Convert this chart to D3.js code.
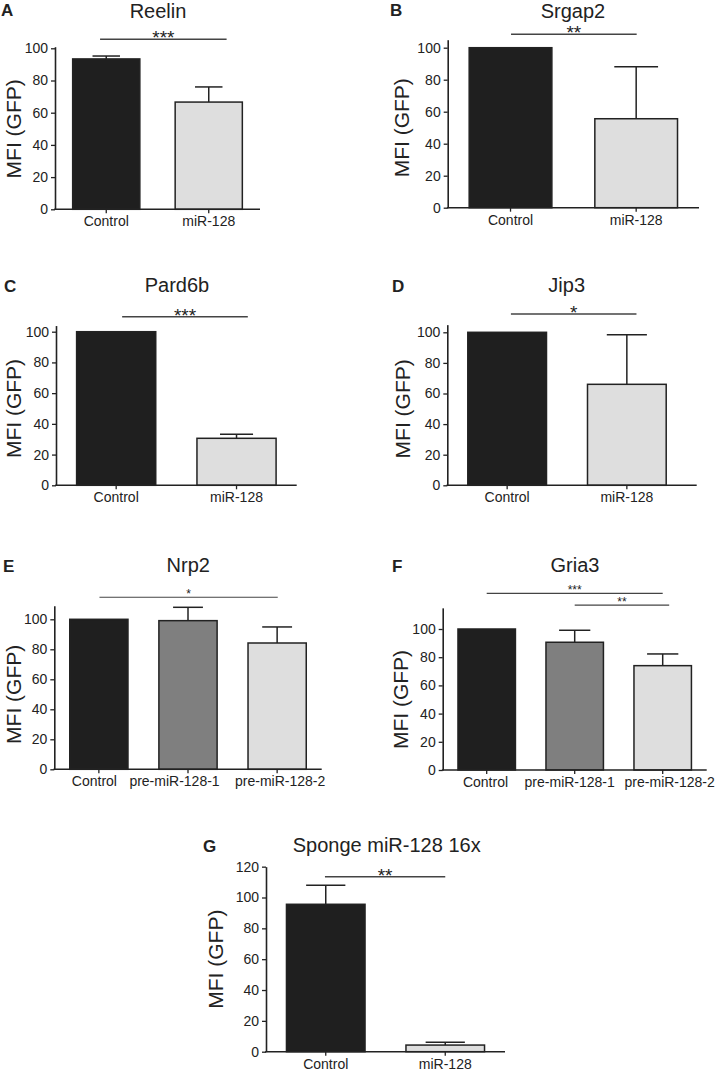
<!DOCTYPE html>
<html>
<head>
<meta charset="utf-8">
<script src="https://cdn.jsdelivr.net/npm/d3@7"></script>
<style>
  html, body { margin: 0; padding: 0; background: #fff; }
  svg { display: block; font-family: "Liberation Sans", Arial, Helvetica, sans-serif; }
</style>
</head>
<body>
<svg id="chart" width="719" height="1071"></svg>
<script>
// ---------------- DATA ----------------
const panelLetters = ["A", "B", "C", "D", "E", "F", "G"];
const panelTitles = ["Reelin", "Srgap2", "Pard6b", "Jip3", "Nrp2", "Gria3", "Sponge miR-128 16x"];
const yAxisTitle = "MFI (GFP)";

const catsTwo = ["Control", "miR-128"];
const catsThree = ["Control", "pre-miR-128-1", "pre-miR-128-2"];

const meansA = [93.4, 66.6];  const semA = [1.8, 9.4];
const meansB = [100, 55.6];   const semB = [0, 32.5];
const meansC = [100, 30.6];   const semC = [0, 2.6];
const meansD = [100, 66.0];   const semD = [0, 32.4];
const meansE = [100, 99.1, 84.2]; const semE = [0, 8.9, 10.7];
const meansF = [100, 90.6, 74.0]; const semF = [0, 8.5, 8.3];
const meansG = [95.6, 4.3];   const semG = [12.3, 1.8];

const ticks100 = [0, 20, 40, 60, 80, 100];
const ticks120 = [0, 20, 40, 60, 80, 100, 120];

// significance brackets: from category, to category, label, height (data units)
const sigA = [{ from: "Control", to: "miR-128", label: "***", value: 105.6 }];
const sigB = [{ from: "Control", to: "miR-128", label: "**", value: 108.4 }];
const sigC = [{ from: "Control", to: "miR-128", label: "***", value: 109.8 }];
const sigD = [{ from: "Control", to: "miR-128", label: "*", value: 112 }];
const sigE = [{ from: "Control", to: "pre-miR-128-2", label: "*", value: 114.7 }];
const sigF = [
  { from: "Control", to: "pre-miR-128-2", label: "***", value: 125.3 },
  { from: "pre-miR-128-1", to: "pre-miR-128-2", label: "**", value: 117 }
];
const sigG = [{ from: "Control", to: "miR-128", label: "**", value: 113.5 }];

const yMaxes = [101, 105, 104, 105, 109, 115, 120];

// ---------------- STYLE / LAYOUT ----------------
const fillByCat = { "Control": "#1f1f1f", "miR-128": "#dedede", "pre-miR-128-1": "#7f7f7f", "pre-miR-128-2": "#dedede" };
const ink = "#222";

const layouts = [
  { cats: catsTwo, means: meansA, sem: semA, ticks: ticks100, sig: sigA,
    xL: 55, xR: 260, bandR: 260, y0: 209.3, ppu: 1.61, cap: 0.40, sigF: [0.41, 0.76], starFs: 19,
    titleX: 158, titleY: 18, letterY: 15.5, letterX: 1, yTitleX: 20.5 },
  { cats: catsTwo, means: meansB, sem: semB, ticks: ticks100, sig: sigB,
    xL: 447.7, xR: 699, bandR: 699, y0: 207.7, ppu: 1.60, cap: 0.52, sigF: [0.506, 0.506], starFs: 19,
    titleX: 573, titleY: 18, letterY: 15.5, letterX: 390, yTitleX: 409.3 },
  { cats: catsTwo, means: meansC, sem: semC, ticks: ticks100, sig: sigC,
    xL: 56, xR: 296.7, bandR: 296.7, y0: 485.3, ppu: 1.536, cap: 0.41, sigF: [0.574, 0.64], starFs: 19,
    titleX: 177, titleY: 292, letterY: 291.7, letterX: 4, yTitleX: 21 },
  { cats: catsTwo, means: meansD, sem: semD, ticks: ticks100, sig: sigD,
    xL: 447.3, xR: 696.7, bandR: 686.7, y0: 485.3, ppu: 1.53, cap: 0.50, sigF: [0.547, 0.62], starFs: 19,
    titleX: 566.7, titleY: 292, letterY: 291.7, letterX: 392, yTitleX: 410 },
  { cats: catsThree, means: meansE, sem: semE, ticks: ticks100, sig: sigE,
    xL: 54.3, xR: 321.7, bandR: 321.7, y0: 769.3, ppu: 1.50, cap: 0.50, sigF: [0.51, 0.51], starFs: 12,
    titleX: 188.3, titleY: 572, letterY: 571.7, letterX: 3, yTitleX: 20.7, thinSig: true,
    labelDx: [-4.5, -13.5, 3] },
  { cats: catsThree, means: meansF, sem: semF, ticks: ticks100, sig: sigF,
    xL: 442.7, xR: 706.7, bandR: 706.7, y0: 770, ppu: 1.41, cap: 0.53, sigF: [0.5, 0.5], sigF2: [0.5, 0.61], starFs: 12,
    titleX: 575, titleY: 572, letterY: 571.7, letterX: 392, yTitleX: 408.3, thinSig: true,
    labelDx: [-1.2, -5, 7] },
  { cats: catsTwo, means: meansG, sem: semG, ticks: ticks120, sig: sigG,
    xL: 266, xR: 505, bandR: 505, y0: 1051.7, ppu: 1.542, cap: 0.49, sigF: [0.49, 0.5], starFs: 19,
    titleX: 386.7, titleY: 852, letterY: 851.7, letterX: 203, yTitleX: 222.7 }
];

const svg = d3.select("#chart");

layouts.forEach((L, i) => {
  const g = svg.append("g");
  const yMax = yMaxes[i];
  const y = d3.scaleLinear().domain([0, yMax]).range([L.y0, L.y0 - yMax * L.ppu]);
  const x = d3.scaleBand().domain(L.cats).range([L.xL, L.bandR]).paddingInner(0.33).paddingOuter(0.165);
  const bw = x.bandwidth();

  // panel letter
  g.append("text").attr("x", L.letterX).attr("y", L.letterY)
    .attr("font-size", 17).attr("font-weight", "bold").attr("fill", ink).text(panelLetters[i]);
  // title
  g.append("text").attr("x", L.titleX).attr("y", L.titleY).attr("text-anchor", "middle")
    .attr("font-size", 20).attr("fill", ink).text(panelTitles[i]);

  // y axis title
  const yMid = i === 6 ? (y(0) + y(120)) / 2 : (y(0) + y(100)) / 2;
  g.append("text")
    .attr("transform", `translate(${L.yTitleX},${yMid}) rotate(-90)`)
    .attr("text-anchor", "middle").attr("font-size", 21).attr("fill", ink).text(yAxisTitle);

  const rows = L.cats.map((c, k) => ({ cat: c, mean: L.means[k], sem: L.sem[k] }));

  // error bars (upper only)
  const eb = g.append("g").attr("stroke", ink).attr("stroke-width", 1.5);
  rows.filter(d => d.sem > 0).forEach(d => {
    const cx = x(d.cat) + bw / 2;
    eb.append("line").attr("x1", cx).attr("x2", cx).attr("y1", y(d.mean)).attr("y2", y(d.mean + d.sem));
    eb.append("line").attr("x1", cx - L.cap * bw / 2).attr("x2", cx + L.cap * bw / 2)
      .attr("y1", y(d.mean + d.sem)).attr("y2", y(d.mean + d.sem));
  });

  // bars
  g.append("g").selectAll("rect").data(rows).join("rect")
    .attr("x", d => x(d.cat) + 0.75)
    .attr("width", bw - 1.5)
    .attr("y", d => y(d.mean))
    .attr("height", d => y(0) - y(d.mean))
    .attr("fill", d => fillByCat[d.cat])
    .attr("stroke", ink).attr("stroke-width", 1.5);

  // y axis
  const ya = g.append("g").attr("transform", `translate(${L.xL},0)`)
    .call(d3.axisLeft(y).tickValues(L.ticks).tickSize(4).tickSizeOuter(0).tickPadding(3).tickFormat(d3.format("d")));
  ya.select(".domain").attr("stroke", ink).attr("stroke-width", 1.6);
  ya.selectAll(".tick line").attr("stroke", ink).attr("stroke-width", 1.3);
  ya.selectAll(".tick text").attr("font-size", 14).attr("fill", ink).attr("font-family", null);

  // x axis
  const xa = g.append("g").attr("transform", `translate(0,${L.y0})`)
    .call(d3.axisBottom(x).tickSize(4).tickSizeOuter(0).tickPadding(3));
  xa.select(".domain").remove();
  xa.selectAll(".tick line").attr("stroke", ink).attr("stroke-width", 1.3);
  xa.selectAll(".tick text").attr("font-size", 14).attr("fill", ink).attr("font-family", null)
    .attr("dx", (d, k) => L.labelDx ? L.labelDx[k] : 0);
  g.append("line").attr("x1", L.xL - 0.8).attr("x2", L.xR).attr("y1", L.y0).attr("y2", L.y0)
    .attr("stroke", ink).attr("stroke-width", 1.6);

  // significance brackets
  L.sig.forEach((s, k) => {
    const fr = (k === 1 && L.sigF2) ? L.sigF2 : L.sigF;
    const x1 = x(s.from) + fr[0] * bw;
    const x2 = x(s.to) + fr[1] * bw;
    const ly = y(s.value);
    g.append("line").attr("x1", x1).attr("x2", x2).attr("y1", ly).attr("y2", ly)
      .attr("stroke", "#444").attr("stroke-width", L.thinSig ? 1.2 : 1.5);
    g.append("text").attr("x", (x1 + x2) / 2).attr("y", ly - 5.8 + 0.575 * L.starFs)
      .attr("text-anchor", "middle").attr("font-size", L.starFs).attr("fill", ink).text(s.label);
  });
});
</script>
</body>
</html>
